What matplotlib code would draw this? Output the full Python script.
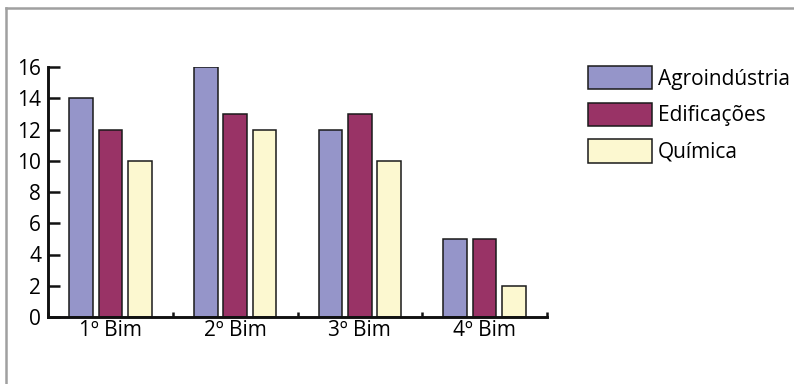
import matplotlib
matplotlib.use("Agg")
import matplotlib.pyplot as plt
from matplotlib.lines import Line2D
from matplotlib.patches import Patch
import numpy as np

plt.rcParams['font.family'] = ['Open Sans', 'DejaVu Sans']

periods = ["1º Bim", "2º Bim", "3º Bim", "4º Bim"]
series_names = ["Agroindústria", "Edificações", "Química"]
agroindustria = [14, 16, 12, 5]
edificacoes = [12, 13, 13, 5]
quimica = [10, 12, 10, 2]
y_ticks = [0, 2, 4, 6, 8, 10, 12, 14, 16]

colors = ["#9595C9", "#993366", "#FCF8D0"]
edge = "#1a1a1a"
fs = 15

W, H = 794, 384
fig = plt.figure(figsize=(W / 100, H / 100), dpi=100)

# frame lines along the top and left edge
fig.add_artist(Line2D([6 / W, 6 / W], [0, 1 - 8 / H], transform=fig.transFigure,
                      color="#a0a0a0", lw=1.8))
fig.add_artist(Line2D([6 / W, 1], [1 - 8 / H, 1 - 8 / H], transform=fig.transFigure,
                      color="#a0a0a0", lw=1.8))

ax = fig.add_axes([48 / W, 67 / H, 499 / W, 250 / H])

x = np.arange(len(periods))
step = 0.235
width = 0.19
for i, (vals, name, c) in enumerate(zip([agroindustria, edificacoes, quimica],
                                        series_names, colors)):
    ax.bar(x + (i - 1) * step, vals, width=width, color=c, edgecolor=edge,
           linewidth=1.1, label=name, zorder=3)

ax.set_xlim(-0.5, len(periods) - 0.5)
ax.set_ylim(0, 16)

for s in ["top", "right"]:
    ax.spines[s].set_visible(False)
for s in ["left", "bottom"]:
    ax.spines[s].set_linewidth(2.1)
    ax.spines[s].set_color("#111111")
    ax.spines[s].set_zorder(4)

ax.set_yticks(y_ticks)
ax.tick_params(axis="y", direction="in", length=8.5, width=1.8, pad=5,
               labelsize=fs, color="#111111")

ax.set_xticks(x)
ax.set_xticklabels(periods)
ax.tick_params(axis="x", which="major", length=0, pad=2, labelsize=fs)
ax.set_xticks(np.arange(-0.5, len(periods) + 0.5, 1.0), minor=True)
ax.tick_params(axis="x", which="minor", direction="in", length=3.5, width=1.8,
               color="#111111")

handles = [Patch(facecolor=c, edgecolor=edge, linewidth=1.1) for c in colors]
fig.legend(handles, series_names, loc="upper left",
           bbox_to_anchor=(588 / W, 1 - 66 / H), bbox_transform=fig.transFigure,
           frameon=False, fontsize=fs, handlelength=3.08, handleheight=1.35,
           handletextpad=0.29, labelspacing=0.62, borderpad=0, borderaxespad=0)

fig.savefig("out.png", dpi=100)
